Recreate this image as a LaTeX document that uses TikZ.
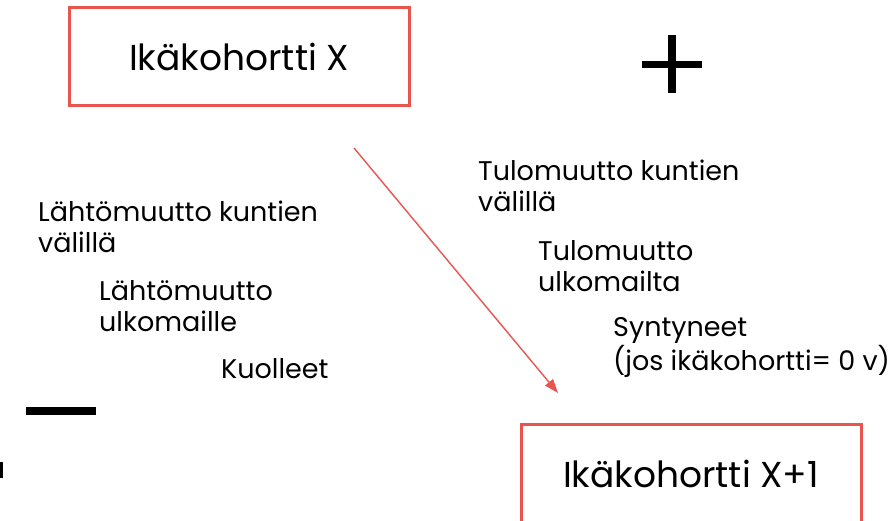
\documentclass[tikz,border=0pt]{standalone}
\usepackage{fontspec}
\setmainfont{Poppins}
\usepackage{tikz}
\usetikzlibrary{arrows.meta, positioning}
\definecolor{Cohort_Red}{HTML}{E8554F}

\tikzset{
    cohortbox/.style={draw=Cohort_Red, line width=3pt, minimum width=340pt, minimum height=98pt, inner sep=0pt, font=\fontsize{36}{40}\selectfont},
    flowtext/.style={anchor=base west, align=left, inner sep=0pt, font=\fontsize{27}{31}\selectfont},
    signbar/.style={fill=black}
}

\begin{document}
\begin{tikzpicture}[x=1pt, y=-1pt]

    % whole page is 890 x 521, y grows downwards
    \useasboundingbox (0,0) rectangle (890,521);
    \clip (0,0) rectangle (890,521);

    % === the two cohorts ===
    \node[cohortbox] (cohortX) at (239,57) {Ikäkohortti X};
    \node[cohortbox] (cohortXnext) at (691,473.5) {Ikäkohortti X+1};

    % === flows out (left), placed by the baseline of the last line ===
    \node[flowtext] (outMunic) at (38,252.7) {Lähtömuutto kuntien\\välillä};
    \node[flowtext] (outAbroad) at (99,331.7) {Lähtömuutto\\ulkomaille};
    \node[flowtext] (deaths) at (221,378.3) {Kuolleet};

    % === flows in (right) ===
    \node[flowtext] (inMunic) at (478,211.7) {Tulomuutto kuntien\\välillä};
    \node[flowtext] (inAbroad) at (538,291.7) {Tulomuutto\\ulkomailta};
    \node[flowtext] (births) at (613,370) {Syntyneet\\(jos ikäkohortti= 0 v)};

    % === plus and minus signs ===
    \fill[signbar] (642,61) rectangle (702,68);
    \fill[signbar] (668,35) rectangle (676,93);
    \fill[signbar] (26,407) rectangle (96,415);
    \fill[signbar] (0,462) rectangle (2.7,478);

    % === ageing arrow ===
    \coordinate (ageStart) at (354,148);
    \coordinate (ageEnd) at (558,393);
    \draw[Cohort_Red, line width=1.4pt, -{Triangle[length=14pt, width=10pt]}] (ageStart) -- (ageEnd);

\end{tikzpicture}
\end{document}
